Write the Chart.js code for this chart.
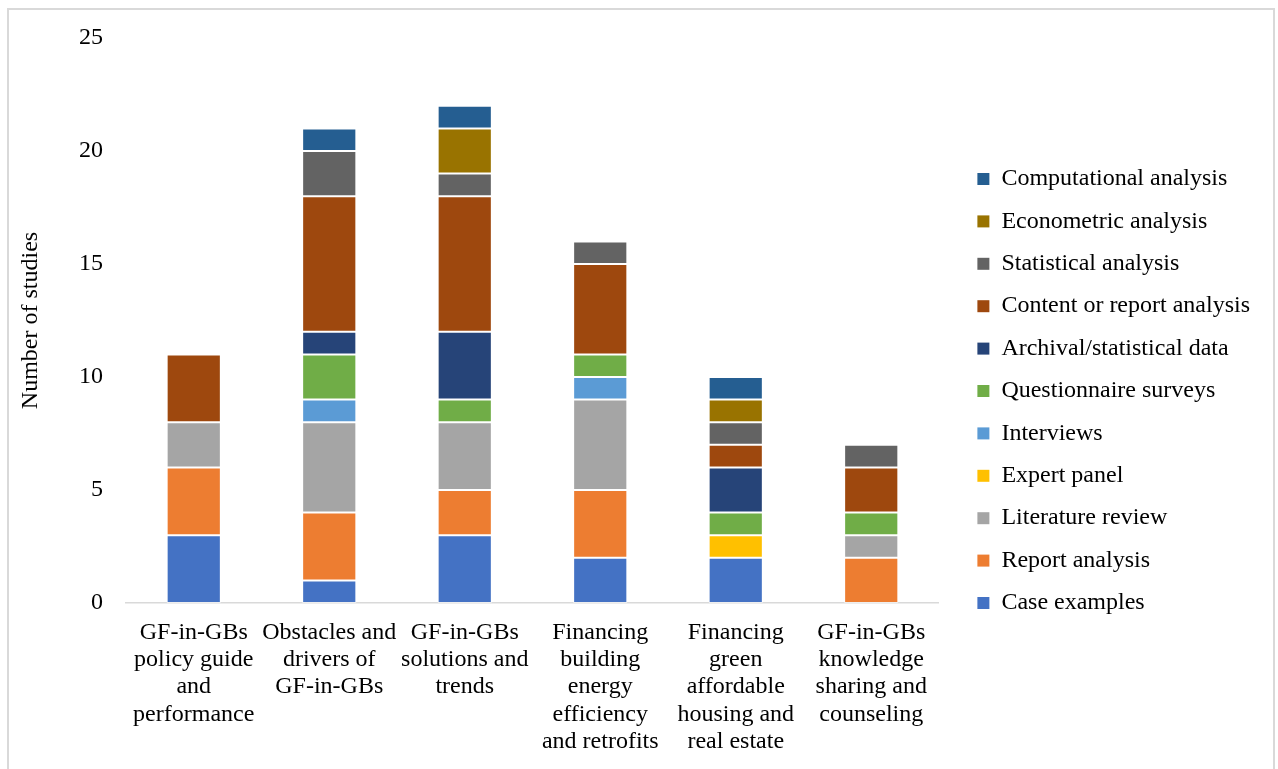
<!DOCTYPE html>
<html>
<head>
<meta charset="utf-8">
<script src="https://cdn.jsdelivr.net/npm/chart.js@4.4.1/dist/chart.umd.min.js"></script>
<style>
  html, body { margin: 0; padding: 0; background: #fff; overflow: hidden; }
  #frame { position: absolute; left: 7px; top: 8px; width: 1264px; height: 800px; border: 2px solid #d9d9d9; }
  #wrap { position: absolute; left: 0; top: 0; width: 1278px; height: 769px; }
</style>
</head>
<body>
<div id="frame"></div>
<div id="wrap"><canvas id="c" width="1278" height="769"></canvas></div>
<script>
// Research themes (x categories), each label split into its printed lines
const categories = [
  ["GF-in-GBs", "policy guide", "and", "performance"],
  ["Obstacles and", "drivers of", "GF-in-GBs"],
  ["GF-in-GBs", "solutions and", "trends"],
  ["Financing", "building", "energy", "efficiency", "and retrofits"],
  ["Financing", "green", "affordable", "housing and", "real estate"],
  ["GF-in-GBs", "knowledge", "sharing and", "counseling"]
];

// Number of studies per method, stacked bottom to top
const caseExamples        = [3, 1, 3, 2, 2, 0];
const reportAnalysis      = [3, 3, 2, 3, 0, 2];
const literatureReview    = [2, 4, 3, 4, 0, 1];
const expertPanel         = [0, 0, 0, 0, 1, 0];
const interviews          = [0, 1, 0, 1, 0, 0];
const questionnaire       = [0, 2, 1, 1, 1, 1];
const archivalData        = [0, 1, 3, 0, 2, 0];
const contentAnalysis     = [3, 6, 6, 4, 1, 2];
const statisticalAnalysis = [0, 2, 1, 1, 1, 1];
const econometricAnalysis = [0, 0, 2, 0, 1, 0];
const computational       = [0, 1, 1, 0, 1, 0];

const yTicks = [0, 5, 10, 15, 20, 25];

const seriesNames = [
  "Case examples", "Report analysis", "Literature review", "Expert panel",
  "Interviews", "Questionnaire surveys", "Archival/statistical data",
  "Content or report analysis", "Statistical analysis",
  "Econometric analysis", "Computational analysis"
];
const seriesValues = [
  caseExamples, reportAnalysis, literatureReview, expertPanel, interviews,
  questionnaire, archivalData, contentAnalysis, statisticalAnalysis,
  econometricAnalysis, computational
];
const seriesColors = [
  "#4472C4", "#ED7D31", "#A5A5A5", "#FFC000", "#5B9BD5", "#70AD47",
  "#264478", "#9E480E", "#636363", "#997300", "#255E91"
];

const FONT = "'Liberation Serif', 'Times New Roman', serif";

const datasets = seriesNames.map((name, i) => ({
  label: name,
  data: seriesValues[i].map(v => (v === 0 ? null : v)),
  backgroundColor: seriesColors[i],
  borderColor: "rgba(255,255,255,0.55)",
  borderWidth: 1,
  borderSkipped: false,
  barPercentage: 0.4,
  categoryPercentage: 1.0
}));

// empty axis used only to reserve space in the layout
const spacer = (position, size) => ({
  type: "linear",
  position,
  display: true,
  grid: { display: false, drawTicks: false },
  border: { display: false },
  ticks: { display: false },
  afterFit: s => {
    if (s.isHorizontal()) { s.height = size; } else { s.width = size; }
  }
});

new Chart(document.getElementById("c"), {
  type: "bar",
  data: { labels: categories, datasets },
  options: {
    responsive: false,
    animation: false,
    devicePixelRatio: 1,
    layout: { padding: { top: 13, bottom: 0, left: 0, right: 18 } },
    scales: {
      x: {
        stacked: true,
        offset: true,
        grid: { display: false, drawTicks: false },
        border: { display: true, color: "#d9d9d9", width: 1.5 },
        ticks: {
          color: "#000",
          padding: 16,
          maxRotation: 0,
          autoSkip: false,
          font: { family: FONT, size: 24, lineHeight: 1.135 }
        },
        afterFit: s => { s.height = 166; }
      },
      y: {
        stacked: true,
        min: 0,
        max: 25,
        grid: { display: false, drawTicks: false },
        border: { display: false },
        afterBuildTicks: s => { s.ticks = yTicks.map(v => ({ value: v })); },
        ticks: {
          color: "#000",
          padding: 23,
          font: { family: FONT, size: 24 }
        },
        title: {
          display: true,
          text: "Number of studies",
          color: "#000",
          padding: { top: 16, bottom: 0 },
          font: { family: FONT, size: 24 }
        },
        afterFit: s => { s.width = 126; }
      },
      topGap: Object.assign(spacer("top", 25), { axis: "x" }),
      rightGap: Object.assign(spacer("right", 20), { axis: "y" })
    },
    plugins: {
      tooltip: { enabled: false },
      legend: {
        position: "right",
        align: "center",
        reverse: true,
        maxWidth: 340,
        labels: {
          color: "#000",
          boxWidth: 12,
          boxHeight: 12,
          padding: 18.4,
          font: { family: FONT, size: 24 },
          generateLabels: chart =>
            Chart.defaults.plugins.legend.labels.generateLabels(chart)
              .map(l => Object.assign(l, { lineWidth: 0 }))
        }
      }
    }
  }
});
</script>
</body>
</html>
